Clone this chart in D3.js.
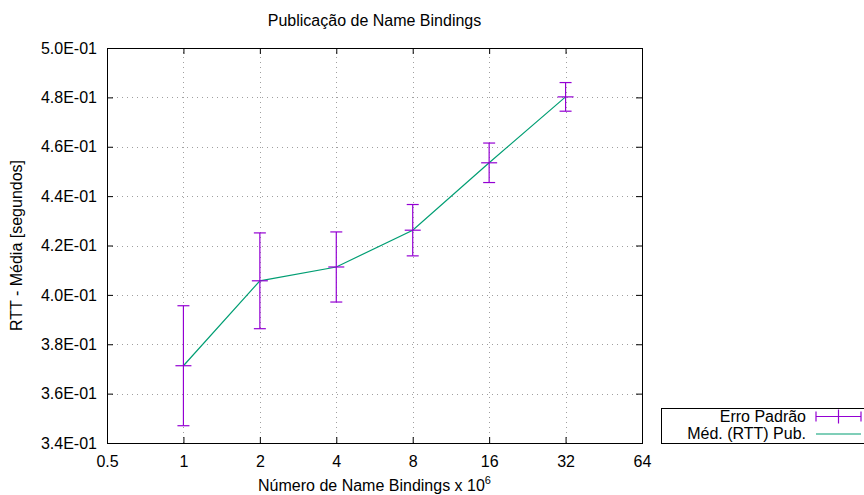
<!DOCTYPE html>
<html>
<head>
<meta charset="utf-8">
<script src="https://cdn.jsdelivr.net/npm/d3@7"></script>
<style>
  body { margin: 0; background: #fff; }
  text { font-family: "Liberation Sans", Arial, sans-serif; fill: #000; }
</style>
</head>
<body>
<div id="chart"></div>
<script>
// dados
const nBindings = [1, 2, 4, 8, 16, 32];
const rttMedia = [0.3713, 0.4057, 0.4113, 0.4262, 0.4535, 0.4802];
const rttErro = [0.0243, 0.0194, 0.0142, 0.0104, 0.0080, 0.0058];
const xTicks = [0.5, 1, 2, 4, 8, 16, 32, 64];
const yTicks = [0.34, 0.36, 0.38, 0.40, 0.42, 0.44, 0.46, 0.48, 0.50];

const width = 864, height = 495;
const margin = { left: 107, right: 222, top: 48, bottom: 52 };
const purple = "#9400d3", green = "#009e73";
const fs = 16;

const svg = d3.select("#chart").append("svg")
  .attr("width", width)
  .attr("height", height);

const x = d3.scaleLog().base(2)
  .domain([0.5, 64])
  .range([margin.left, width - margin.right]);
const y = d3.scaleLinear()
  .domain([0.34, 0.50])
  .range([height - margin.bottom, margin.top]);

const x0 = x.range()[0], x1 = x.range()[1];
const y0 = y.range()[0], y1 = y.range()[1];

// grade pontilhada
const grid = svg.append("g").attr("stroke", "#a0a0a0").attr("stroke-width", 1)
  .attr("stroke-dasharray", "1,4");
grid.selectAll(".gx").data(xTicks.slice(1, -1)).join("line")
  .attr("x1", d => Math.round(x(d)) + 0.5).attr("x2", d => Math.round(x(d)) + 0.5)
  .attr("y1", y0).attr("y2", y1);
grid.selectAll(".gy").data(yTicks.slice(1, -1)).join("line")
  .attr("y1", d => Math.round(y(d)) + 0.5).attr("y2", d => Math.round(y(d)) + 0.5)
  .attr("x1", x0).attr("x2", x1);

// eixos (ticks para dentro, espelhados)
const tk = 6;
const fmtY = d => d.toExponential(1).replace("e-", "E-0").toUpperCase();

const axB = svg.append("g").attr("transform", `translate(0,${y0})`)
  .call(d3.axisBottom(x).tickValues(xTicks).tickSizeInner(-tk).tickSizeOuter(0).tickPadding(13)
    .tickFormat(d => String(d)));
const axT = svg.append("g").attr("transform", `translate(0,${y1})`)
  .call(d3.axisTop(x).tickValues(xTicks).tickSizeInner(-tk).tickSizeOuter(0).tickFormat(""));
const axL = svg.append("g").attr("transform", `translate(${x0},0)`)
  .call(d3.axisLeft(y).tickValues(yTicks).tickSizeInner(-tk).tickSizeOuter(0).tickPadding(10)
    .tickFormat(fmtY));
const axR = svg.append("g").attr("transform", `translate(${x1},0)`)
  .call(d3.axisRight(y).tickValues(yTicks).tickSizeInner(-tk).tickSizeOuter(0).tickFormat(""));

[axB, axT, axL, axR].forEach(a => {
  a.select(".domain").remove();
  a.selectAll("text").attr("font-size", fs).attr("font-family", "Liberation Sans, Arial, sans-serif");
  a.selectAll(".tick line").attr("stroke", "#000");
});

svg.append("rect")
  .attr("x", x0 + 0.5).attr("y", y1 + 0.5)
  .attr("width", x1 - x0).attr("height", y0 - y1)
  .attr("fill", "none").attr("stroke", "#000").attr("stroke-width", 1);

// linha da média
svg.append("path")
  .datum(nBindings.map((d, i) => [d, rttMedia[i]]))
  .attr("fill", "none")
  .attr("stroke", green)
  .attr("stroke-width", 1.2)
  .attr("d", d3.line().x(d => x(d[0])).y(d => y(d[1])));

// barras de erro
const eb = svg.append("g").attr("stroke", purple).attr("stroke-width", 1.2);
nBindings.forEach((d, i) => {
  const cx = x(d);
  const top = y(rttMedia[i] + rttErro[i]);
  const bot = y(rttMedia[i] - rttErro[i]);
  const cy = y(rttMedia[i]);
  eb.append("line").attr("x1", cx).attr("x2", cx).attr("y1", top).attr("y2", bot);
  eb.append("line").attr("x1", cx - 6).attr("x2", cx + 6).attr("y1", top).attr("y2", top);
  eb.append("line").attr("x1", cx - 6).attr("x2", cx + 6).attr("y1", bot).attr("y2", bot);
  eb.append("line").attr("x1", cx - 8).attr("x2", cx + 8).attr("y1", cy).attr("y2", cy);
});

// títulos
svg.append("text")
  .attr("x", (x0 + x1) / 2).attr("y", 26)
  .attr("text-anchor", "middle").attr("font-size", fs)
  .text("Publicação de Name Bindings");

const xl = svg.append("text")
  .attr("x", (x0 + x1) / 2).attr("y", 491)
  .attr("text-anchor", "middle").attr("font-size", fs);
xl.append("tspan").text("Número de Name Bindings x 10");
xl.append("tspan").attr("dy", -7).attr("font-size", 11).text("6");

svg.append("text")
  .attr("transform", `translate(22,${(y0 + y1) / 2}) rotate(-90)`)
  .attr("text-anchor", "middle").attr("font-size", fs)
  .text("RTT - Média [segundos]");

// legenda
const leg = svg.append("g");
leg.append("rect")
  .attr("x", 661.5).attr("y", 408.5).attr("width", 210).attr("height", 35)
  .attr("fill", "#fff").attr("stroke", "#000");
const legItems = ["Erro Padrão", "Méd. (RTT) Pub."];
legItems.forEach((t, i) => {
  leg.append("text").attr("x", 806).attr("y", 422 + i * 17)
    .attr("text-anchor", "end").attr("font-size", fs).text(t);
});
const ly1 = 416.5, ly2 = 434;
leg.append("line").attr("x1", 816).attr("x2", 861).attr("y1", ly1).attr("y2", ly1)
  .attr("stroke", purple).attr("stroke-width", 1.2);
[816, 861].forEach(px => leg.append("line").attr("x1", px).attr("x2", px)
  .attr("y1", ly1 - 5).attr("y2", ly1 + 5).attr("stroke", purple).attr("stroke-width", 1.2));
leg.append("line").attr("x1", 838.5).attr("x2", 838.5).attr("y1", ly1 - 7).attr("y2", ly1 + 7)
  .attr("stroke", purple).attr("stroke-width", 1.2);
leg.append("line").attr("x1", 816).attr("x2", 861).attr("y1", ly2).attr("y2", ly2)
  .attr("stroke", green).attr("stroke-width", 1.2);
</script>
</body>
</html>
